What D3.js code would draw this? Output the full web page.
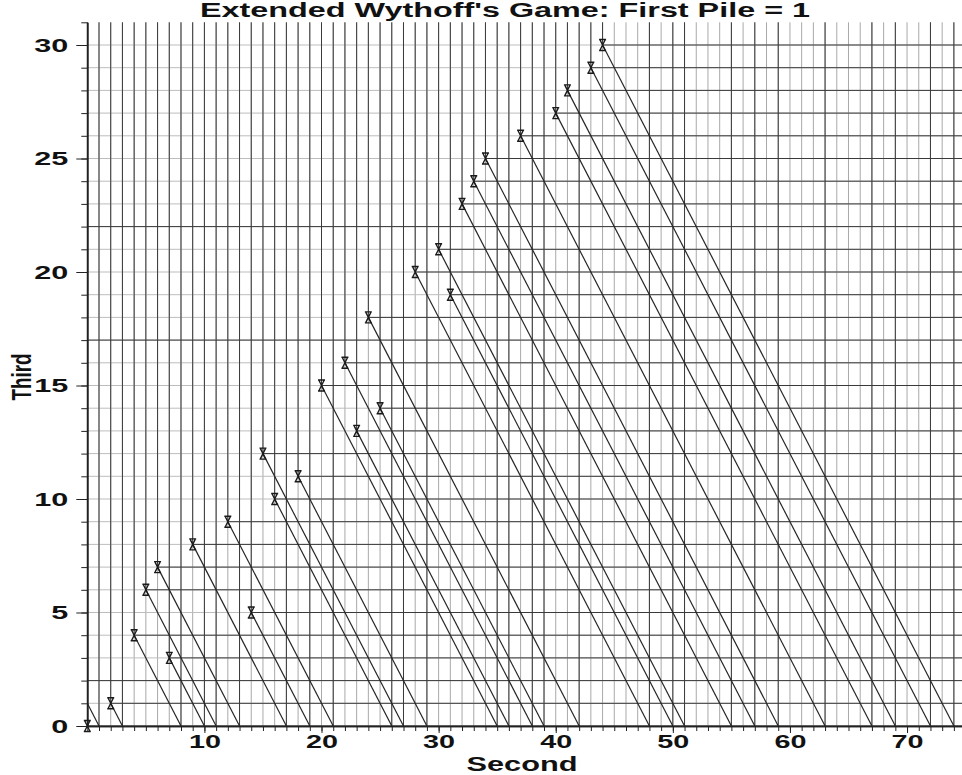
<!DOCTYPE html>
<html>
<head>
<meta charset="utf-8">
<script src="https://cdn.jsdelivr.net/npm/d3@7"></script>
<style>
  body { margin: 0; background: #fff; }
  text { font-family: "Liberation Sans", Arial, sans-serif; font-weight: bold; fill: #111; }
</style>
</head>
<body>
<div id="chart"></div>
<script>
var svgWidth = 962;
var svgHeight = 775;

// P-positions (second pile, third pile)
var second = [0, 2, 4, 5, 6, 7, 9, 12, 14, 15, 16, 18, 20, 22, 23, 24, 25, 28, 30, 31, 32, 33, 34, 37, 40, 41, 43, 44];
var third  = [0, 1, 4, 6, 7, 3, 8, 9, 5, 12, 10, 11, 15, 16, 13, 18, 14, 20, 21, 19, 23, 24, 25, 26, 27, 28, 29, 30];

// one extra diagonal with no marker on it
var extraSecond = [0];
var extraThird = [1];

var xTicks = [10, 20, 30, 40, 50, 60, 70];
var yTicks = [0, 5, 10, 15, 20, 25, 30];

var svg = d3.select("#chart")
  .append("svg")
  .attr("width", svgWidth)
  .attr("height", svgHeight);

var x = d3.scaleLinear().domain([0, 75]).range([87.3, 965.6]);
var y = d3.scaleLinear().domain([0, 31]).range([726, 22.3]);

var pts = second.map(function (s, i) { return { s: s, t: third[i] }; });
var diag = pts.concat(extraSecond.map(function (s, i) { return { s: s, t: extraThird[i] }; }));

var cols = d3.range(0, 76);
var rows = d3.range(0, 31);

// light grid at every integer
var grid = svg.append("g").attr("stroke-width", 1);
grid.selectAll("line.v").data(cols).enter().append("line")
  .attr("stroke", "#a9a9a9")
  .attr("x1", function (d) { return x(d); }).attr("x2", function (d) { return x(d); })
  .attr("y1", y(0)).attr("y2", y(31));
grid.selectAll("line.h").data(rows).enter().append("line")
  .attr("stroke", "#bdbdbd")
  .attr("x1", x(0)).attr("x2", x(75))
  .attr("y1", function (d) { return y(d); }).attr("y2", function (d) { return y(d); });

// dark lines: up from each point, right from each point
var dark = svg.append("g").attr("stroke", "#3a3a3a").attr("stroke-width", 1);
dark.selectAll("line.up").data(pts).enter().append("line")
  .attr("x1", function (d) { return x(d.s); }).attr("x2", function (d) { return x(d.s); })
  .attr("y1", function (d) { return y(d.t); }).attr("y2", y(31));
dark.selectAll("line.right").data(pts).enter().append("line")
  .attr("x1", function (d) { return x(d.s); }).attr("x2", x(75))
  .attr("y1", function (d) { return y(d.t); }).attr("y2", function (d) { return y(d.t); });

// full columns where a diagonal lands and no point sits
var sumCols = diag.map(function (d) { return d.s + d.t; })
  .filter(function (c) { return second.indexOf(c) < 0; });
dark.selectAll("line.col").data(sumCols).enter().append("line")
  .attr("x1", function (d) { return x(d); }).attr("x2", function (d) { return x(d); })
  .attr("y1", y(0)).attr("y2", y(31));

// full rows with no point on them
var emptyRows = rows.filter(function (r) { return third.indexOf(r) < 0; });
dark.selectAll("line.row").data(emptyRows).enter().append("line")
  .attr("x1", x(0)).attr("x2", x(75))
  .attr("y1", function (d) { return y(d); }).attr("y2", function (d) { return y(d); });

// diagonals down to the second axis
svg.append("g").attr("stroke", "#262626").attr("stroke-width", 1.2)
  .selectAll("line").data(diag).enter().append("line")
  .attr("x1", function (d) { return x(d.s); })
  .attr("y1", function (d) { return y(d.t); })
  .attr("x2", function (d) { return x(d.s + d.t); })
  .attr("y2", y(0));

// axes
function stretch(sel, perChar) {
  sel.selectAll("text")
    .attr("font-size", 19)
    .attr("textLength", function () { return this.textContent.length * perChar; })
    .attr("lengthAdjust", "spacingAndGlyphs");
}

svg.append("g").attr("transform", "translate(" + x(0) + ",0)")
  .call(d3.axisLeft(y).tickValues(d3.range(0, 32)).tickSize(6).tickSizeOuter(0).tickFormat(""));
var yMajor = svg.append("g").attr("transform", "translate(" + x(0) + ",0)")
  .call(d3.axisLeft(y).tickValues(yTicks).tickSize(11).tickSizeOuter(0).tickPadding(8));
stretch(yMajor, 17);

svg.append("g").attr("transform", "translate(0," + y(0) + ")")
  .call(d3.axisBottom(x).tickValues(d3.range(0, 76)).tickSize(5).tickSizeOuter(0).tickFormat(""));
var xMajor = svg.append("g").attr("transform", "translate(0," + y(0) + ")")
  .call(d3.axisBottom(x).tickValues(xTicks).tickSize(7).tickSizeOuter(0).tickPadding(2));
stretch(xMajor, 16);

svg.selectAll(".domain").attr("stroke", "#222").attr("stroke-width", 1.4);
svg.selectAll(".tick line").attr("stroke", "#222");
svg.selectAll(".tick text").attr("fill", "#111").style("font-family", "'Liberation Sans', Arial, sans-serif").style("font-weight", "bold");

// markers
svg.append("g").attr("fill", "none").attr("stroke", "#1a1a1a").attr("stroke-width", 1.4)
  .selectAll("path").data(pts).enter().append("path")
  .attr("transform", function (d) { return "translate(" + x(d.s) + "," + y(d.t) + ")"; })
  .attr("d", "M-3.5,-5.5H3.5M-3.5,5.5H3.5M-2.5,-5L2.5,5M2.5,-5L-2.5,5");

// titles
svg.append("text")
  .attr("x", 505).attr("y", 17)
  .attr("text-anchor", "middle")
  .attr("font-size", 20)
  .attr("textLength", 610).attr("lengthAdjust", "spacingAndGlyphs")
  .text("Extended Wythoff's Game: First Pile = 1");

svg.append("text")
  .attr("x", 522).attr("y", 771)
  .attr("text-anchor", "middle")
  .attr("font-size", 20)
  .attr("textLength", 111).attr("lengthAdjust", "spacingAndGlyphs")
  .text("Second");

svg.append("text")
  .attr("transform", "translate(31,377) rotate(-90)")
  .attr("text-anchor", "middle")
  .attr("font-size", 28)
  .attr("textLength", 47).attr("lengthAdjust", "spacingAndGlyphs")
  .text("Third");
</script>
</body>
</html>
